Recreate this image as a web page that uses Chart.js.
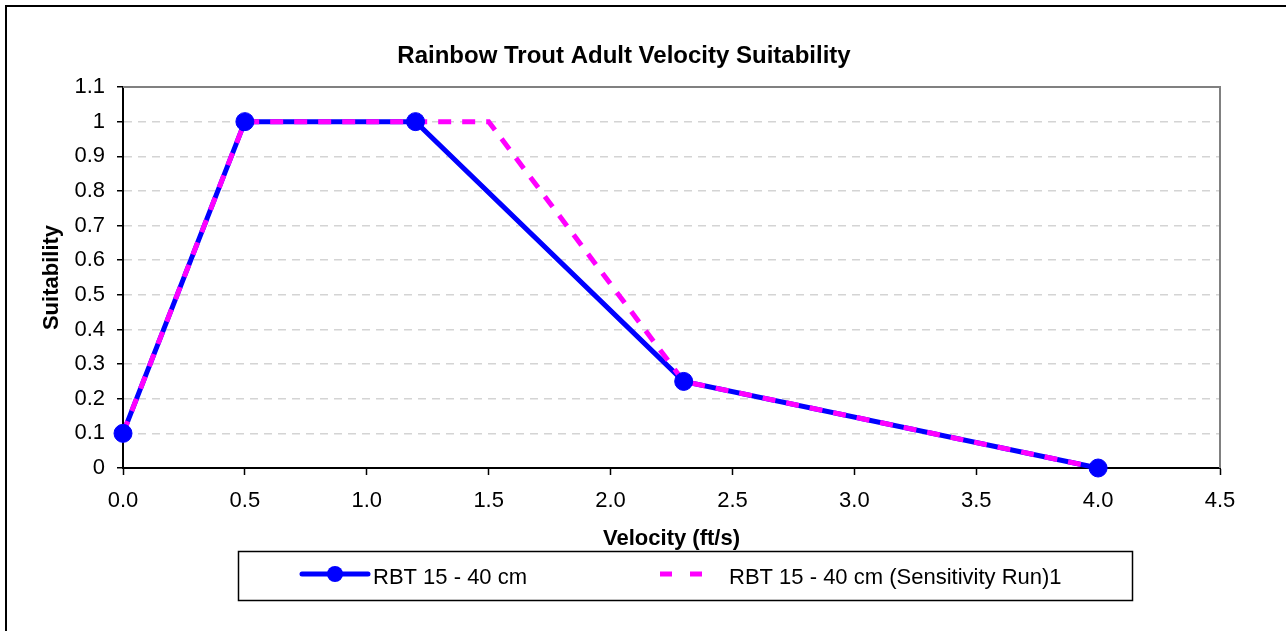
<!DOCTYPE html>
<html>
<head>
<meta charset="utf-8">
<script src="https://cdn.jsdelivr.net/npm/chart.js@4/dist/chart.umd.min.js"></script>
<style>
  html, body { margin: 0; padding: 0; background: #fff; }
  #wrap { width: 1286px; height: 631px; }
</style>
</head>
<body>
<div id="wrap"><canvas id="chart"></canvas></div>
<script>
const titleText = "Rainbow Trout Adult Velocity Suitability";
const xTitle = "Velocity (ft/s)";
const yTitle = "Suitability";

const seriesNames = ["RBT 15 - 40 cm", "RBT 15 - 40 cm (Sensitivity Run)1"];
const baseVelocity = [0.0, 0.5, 1.2, 2.3, 4.0];
const baseSuit = [0.1, 1.0, 1.0, 0.25, 0.0];
const sensVelocity = [0.0, 0.5, 1.5, 2.3, 4.0];
const sensSuit = [0.1, 1.0, 1.0, 0.25, 0.0];

const BLUE = "#0000ff";
const MAGENTA = "#ff00ff";
const FONT = "'Liberation Sans', Arial, sans-serif";

const toPts = (xs, ys) => xs.map((x, i) => ({ x: x, y: ys[i] }));

// title, plot frame, outer frame and boxed legend
const extras = {
  id: "extras",
  beforeDraw(chart) {
    const c = chart.ctx;
    c.save();
    c.fillStyle = "#fff";
    c.fillRect(0, 0, chart.width, chart.height);
    c.strokeStyle = "#000";
    c.lineWidth = 2;
    c.beginPath();
    c.moveTo(6, chart.height);
    c.lineTo(6, 6);
    c.lineTo(chart.width, 6);
    c.stroke();
    c.restore();
  },
  afterDraw(chart) {
    const c = chart.ctx;
    const a = chart.chartArea;
    c.save();
    // plot frame top + right
    c.strokeStyle = "#808080";
    c.lineWidth = 2;
    c.beginPath();
    c.moveTo(a.left, a.top);
    c.lineTo(a.right, a.top);
    c.lineTo(a.right, a.bottom);
    c.stroke();

    // title
    c.fillStyle = "#000";
    c.font = "bold 24px " + FONT;
    c.textAlign = "center";
    c.textBaseline = "alphabetic";
    c.fillText(titleText, 624, 63);

    // legend box
    c.strokeStyle = "#000";
    c.lineWidth = 1.5;
    c.strokeRect(238.5, 551.5, 894, 49);
    const ly = 574;
    c.strokeStyle = BLUE;
    c.lineWidth = 5;
    c.lineCap = "round";
    c.beginPath();
    c.moveTo(302, ly);
    c.lineTo(368, ly);
    c.stroke();
    c.fillStyle = BLUE;
    c.beginPath();
    c.arc(335, ly, 8, 0, Math.PI * 2);
    c.fill();
    c.lineCap = "butt";
    c.strokeStyle = MAGENTA;
    c.setLineDash([12, 18]);
    c.beginPath();
    c.moveTo(660, ly);
    c.lineTo(705, ly);
    c.stroke();
    c.setLineDash([]);
    c.fillStyle = "#000";
    c.font = "22px " + FONT;
    c.textAlign = "left";
    c.fillText(seriesNames[0], 373, 584);
    c.fillText(seriesNames[1], 729, 584);
    c.restore();
  }
};

new Chart(document.getElementById("chart"), {
  type: "line",
  plugins: [extras],
  data: {
    datasets: [
      {
        label: seriesNames[0] + " markers",
        data: toPts(baseVelocity, baseSuit),
        showLine: false,
        pointRadius: 9,
        pointBackgroundColor: BLUE,
        pointBorderColor: BLUE,
        order: 1
      },
      {
        label: seriesNames[1],
        data: toPts(sensVelocity, sensSuit),
        borderColor: MAGENTA,
        borderWidth: 5,
        borderDash: [13, 11],
        pointRadius: 0,
        order: 2
      },
      {
        label: seriesNames[0],
        data: toPts(baseVelocity, baseSuit),
        borderColor: BLUE,
        borderWidth: 5,
        pointRadius: 0,
        order: 3
      }
    ]
  },
  options: {
    responsive: true,
    maintainAspectRatio: false,
    animation: false,
    clip: false,
    layout: { padding: { top: 87, right: 66, bottom: 79, left: 0 } },
    plugins: {
      legend: { display: false },
      tooltip: { enabled: false },
      title: { display: false }
    },
    scales: {
      x: {
        type: "linear",
        min: 0,
        max: 4.5,
        afterFit: (s) => { s.height = 84; },
        ticks: {
          stepSize: 0.5,
          padding: 13,
          maxRotation: 0,
          color: "#000",
          font: { family: FONT, size: 22 },
          callback: (v) => Number(v).toFixed(1)
        },
        grid: {
          drawOnChartArea: false,
          drawTicks: true,
          tickLength: 7,
          tickColor: "#000",
          tickWidth: 1.5
        },
        border: { color: "#000", width: 2 },
        title: {
          display: true,
          text: xTitle,
          color: "#000",
          padding: { top: 0, bottom: 0 },
          font: { family: FONT, size: 22, weight: "bold" }
        }
      },
      y: {
        min: 0,
        max: 1.1,
        afterFit: (s) => { s.width = 123; },
        ticks: {
          stepSize: 0.1,
          padding: 12,
          color: "#000",
          font: { family: FONT, size: 22 },
          callback: (v) => String(Math.round(v * 10) / 10)
        },
        grid: {
          color: "#d4d4d4",
          lineWidth: 1.5,
          tickBorderDash: [],
          drawTicks: true,
          tickLength: 6,
          tickColor: "#000",
          tickWidth: 1.5
        },
        border: { color: "#000", width: 2, dash: [8, 6] },
        title: {
          display: true,
          text: yTitle,
          color: "#000",
          padding: { top: 39, bottom: 0 },
          font: { family: FONT, size: 22, weight: "bold" }
        }
      }
    }
  }
});
</script>
</body>
</html>
